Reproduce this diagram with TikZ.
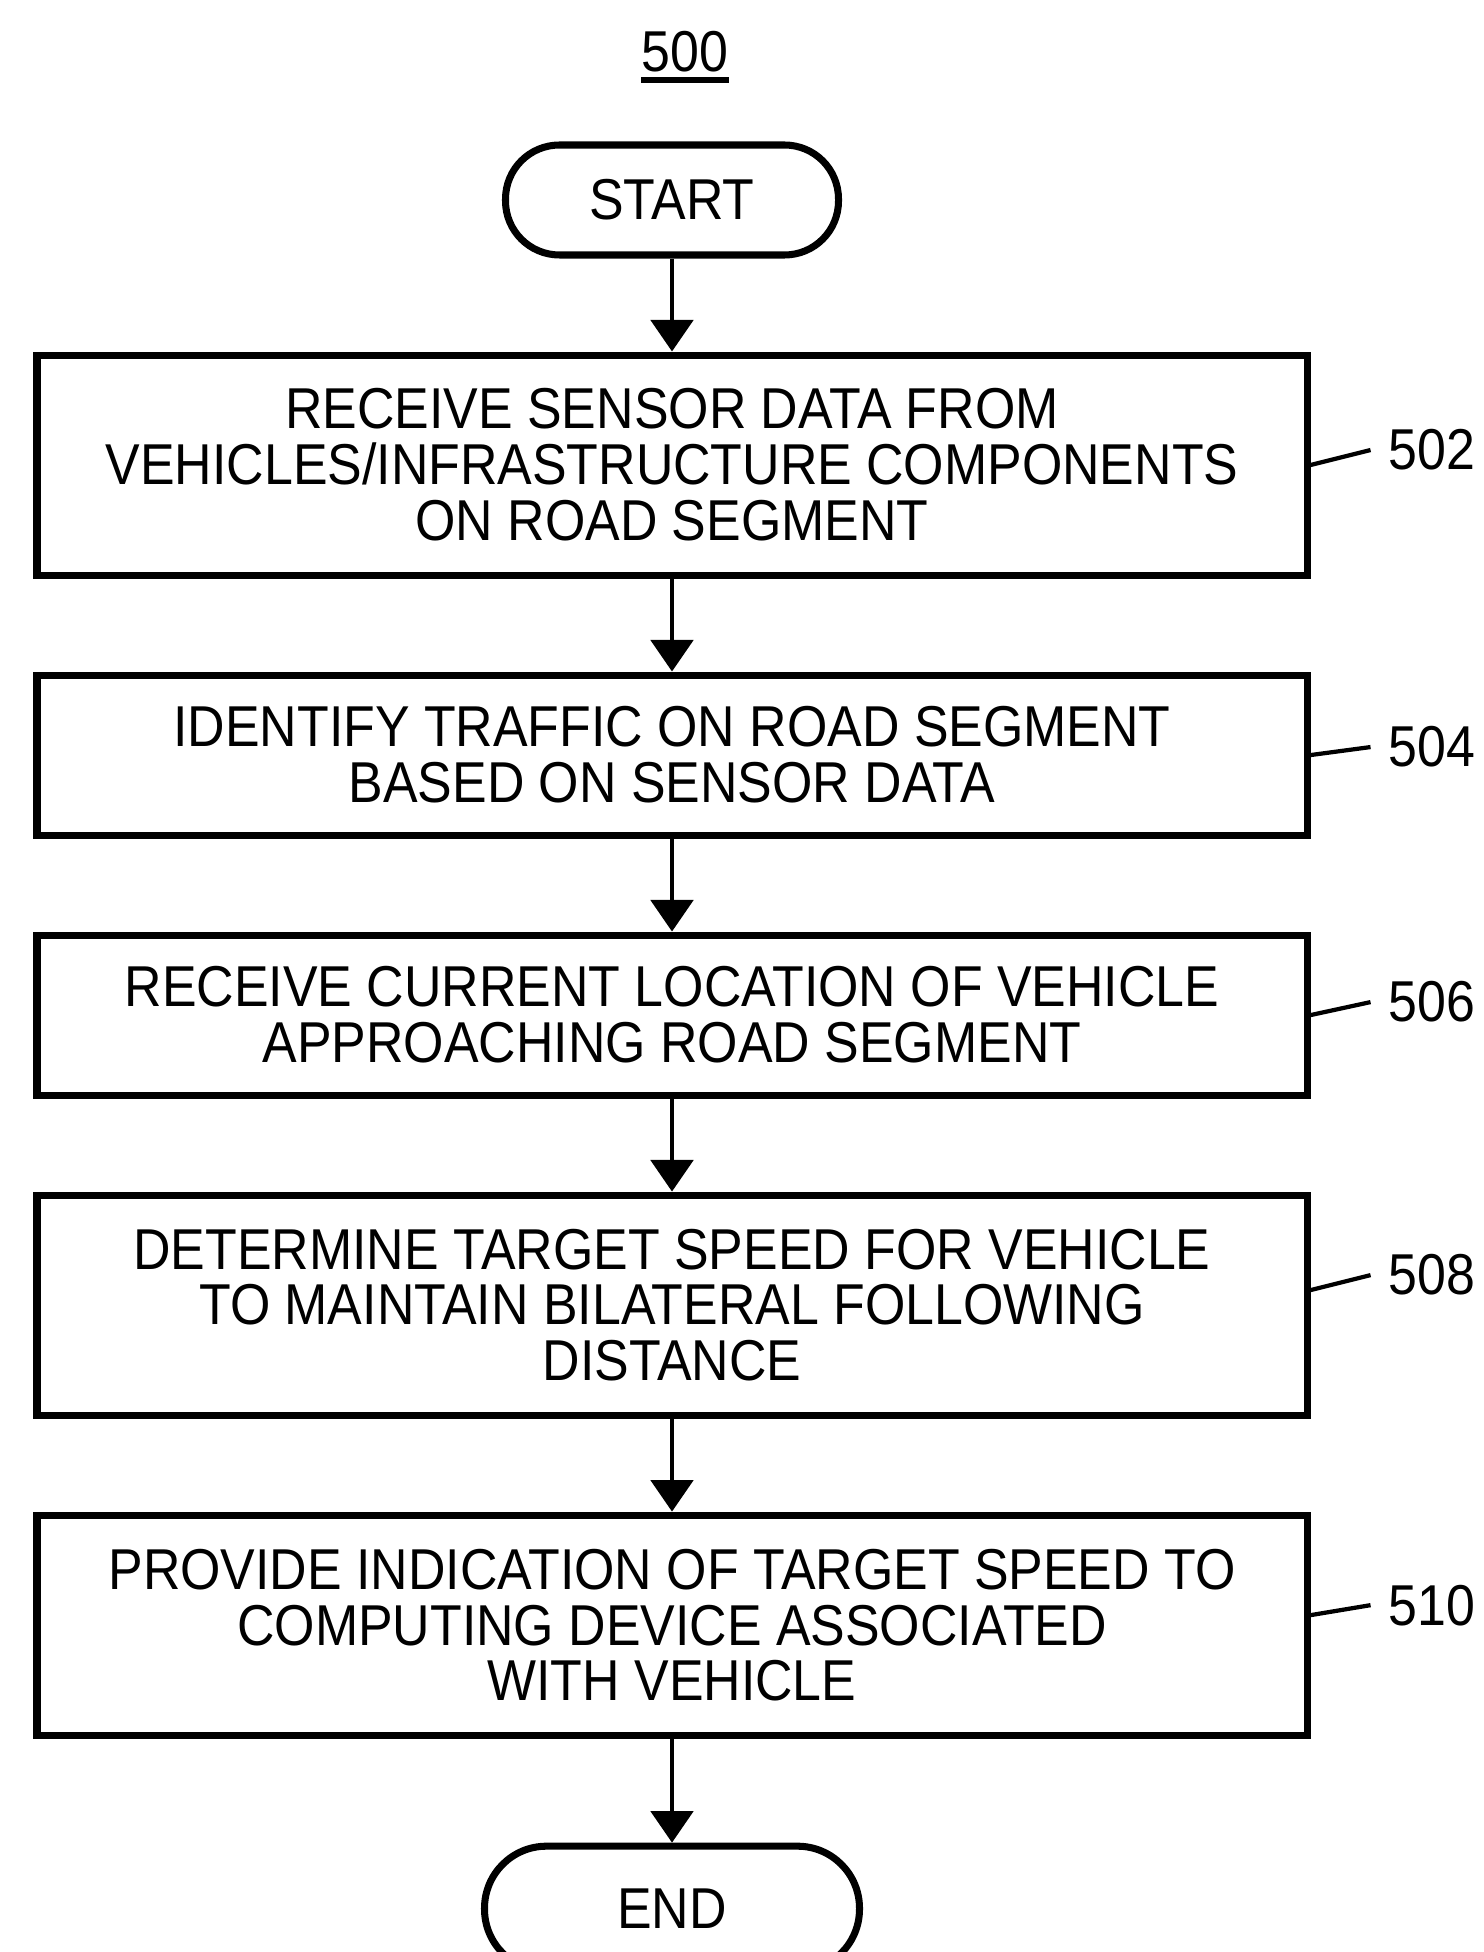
\documentclass[tikz,border=0pt]{standalone}
\usepackage{fontspec}
\setmainfont{Liberation Sans}[FakeStretch=0.9]
\usetikzlibrary{arrows.meta,positioning}

\begin{document}
\begin{tikzpicture}[>={Triangle[width=12pt,length=9pt]},node distance=9.3mm,
  font=\fontsize{16.4}{15.9}\selectfont,
  box/.style={draw,line width=2pt,align=center,minimum width=127mm,inner sep=0pt},
  term/.style={draw,line width=2pt,rounded corners=5.4mm,minimum height=11mm},
  tag/.style={inner sep=5pt},
  flow/.style={->,line width=1.4pt},
  lead/.style={line width=1.2pt}]
\useasboundingbox (0,0) rectangle (14.83,-19.52);
\node[inner sep=0pt] (num) at (6.85,-0.52) {500};
\draw[line width=1.5pt] ([yshift=-0.7mm]num.south west) -- ([yshift=-0.7mm]num.south east);
\node[term,minimum width=33.3mm] (start) at (6.72,-2.0) {START};
\node[box,below=of start,minimum height=22mm] (b502) {RECEIVE SENSOR DATA FROM\\VEHICLES/INFRASTRUCTURE COMPONENTS\\ON ROAD SEGMENT};
\node[box,below=of b502,minimum height=16mm] (b504) {IDENTIFY TRAFFIC ON ROAD SEGMENT\\BASED ON SENSOR DATA};
\node[box,below=of b504,minimum height=16mm] (b506) {RECEIVE CURRENT LOCATION OF VEHICLE\\APPROACHING ROAD SEGMENT};
\node[box,below=of b506,minimum height=22mm] (b508) {DETERMINE TARGET SPEED FOR VEHICLE\\TO MAINTAIN BILATERAL FOLLOWING\\DISTANCE};
\node[box,below=of b508,minimum height=22mm] (b510) {PROVIDE INDICATION OF TARGET SPEED TO\\COMPUTING DEVICE ASSOCIATED\\WITH VEHICLE};
\node[term,below=10.4mm of b510,minimum width=37.5mm,minimum height=12.5mm,rounded corners=6.2mm] (end) {END};
% reference numerals
\node[tag,right=6mm of b502,yshift=1.5mm] (t502) {502};
\node[tag,right=6mm of b504,yshift=0.8mm] (t504) {504};
\node[tag,right=6mm of b506,yshift=1.3mm] (t506) {506};
\node[tag,right=6mm of b508,yshift=3mm] (t508) {508};
\node[tag,right=6mm of b510,yshift=2mm] (t510) {510};
\draw[lead] (b502.east) -- (t502.west);
\draw[lead] (b504.east) -- (t504.west);
\draw[lead] (b506.east) -- (t506.west);
\draw[lead] ([yshift=1.5mm]b508.east) -- (t508.west);
\draw[lead] ([yshift=1mm]b510.east) -- (t510.west);
% flow
\draw[flow] (start)--(b502); \draw[flow] (b502)--(b504); \draw[flow] (b504)--(b506);
\draw[flow] (b506)--(b508); \draw[flow] (b508)--(b510); \draw[flow] (b510)--(end);
\end{tikzpicture}
\end{document}
